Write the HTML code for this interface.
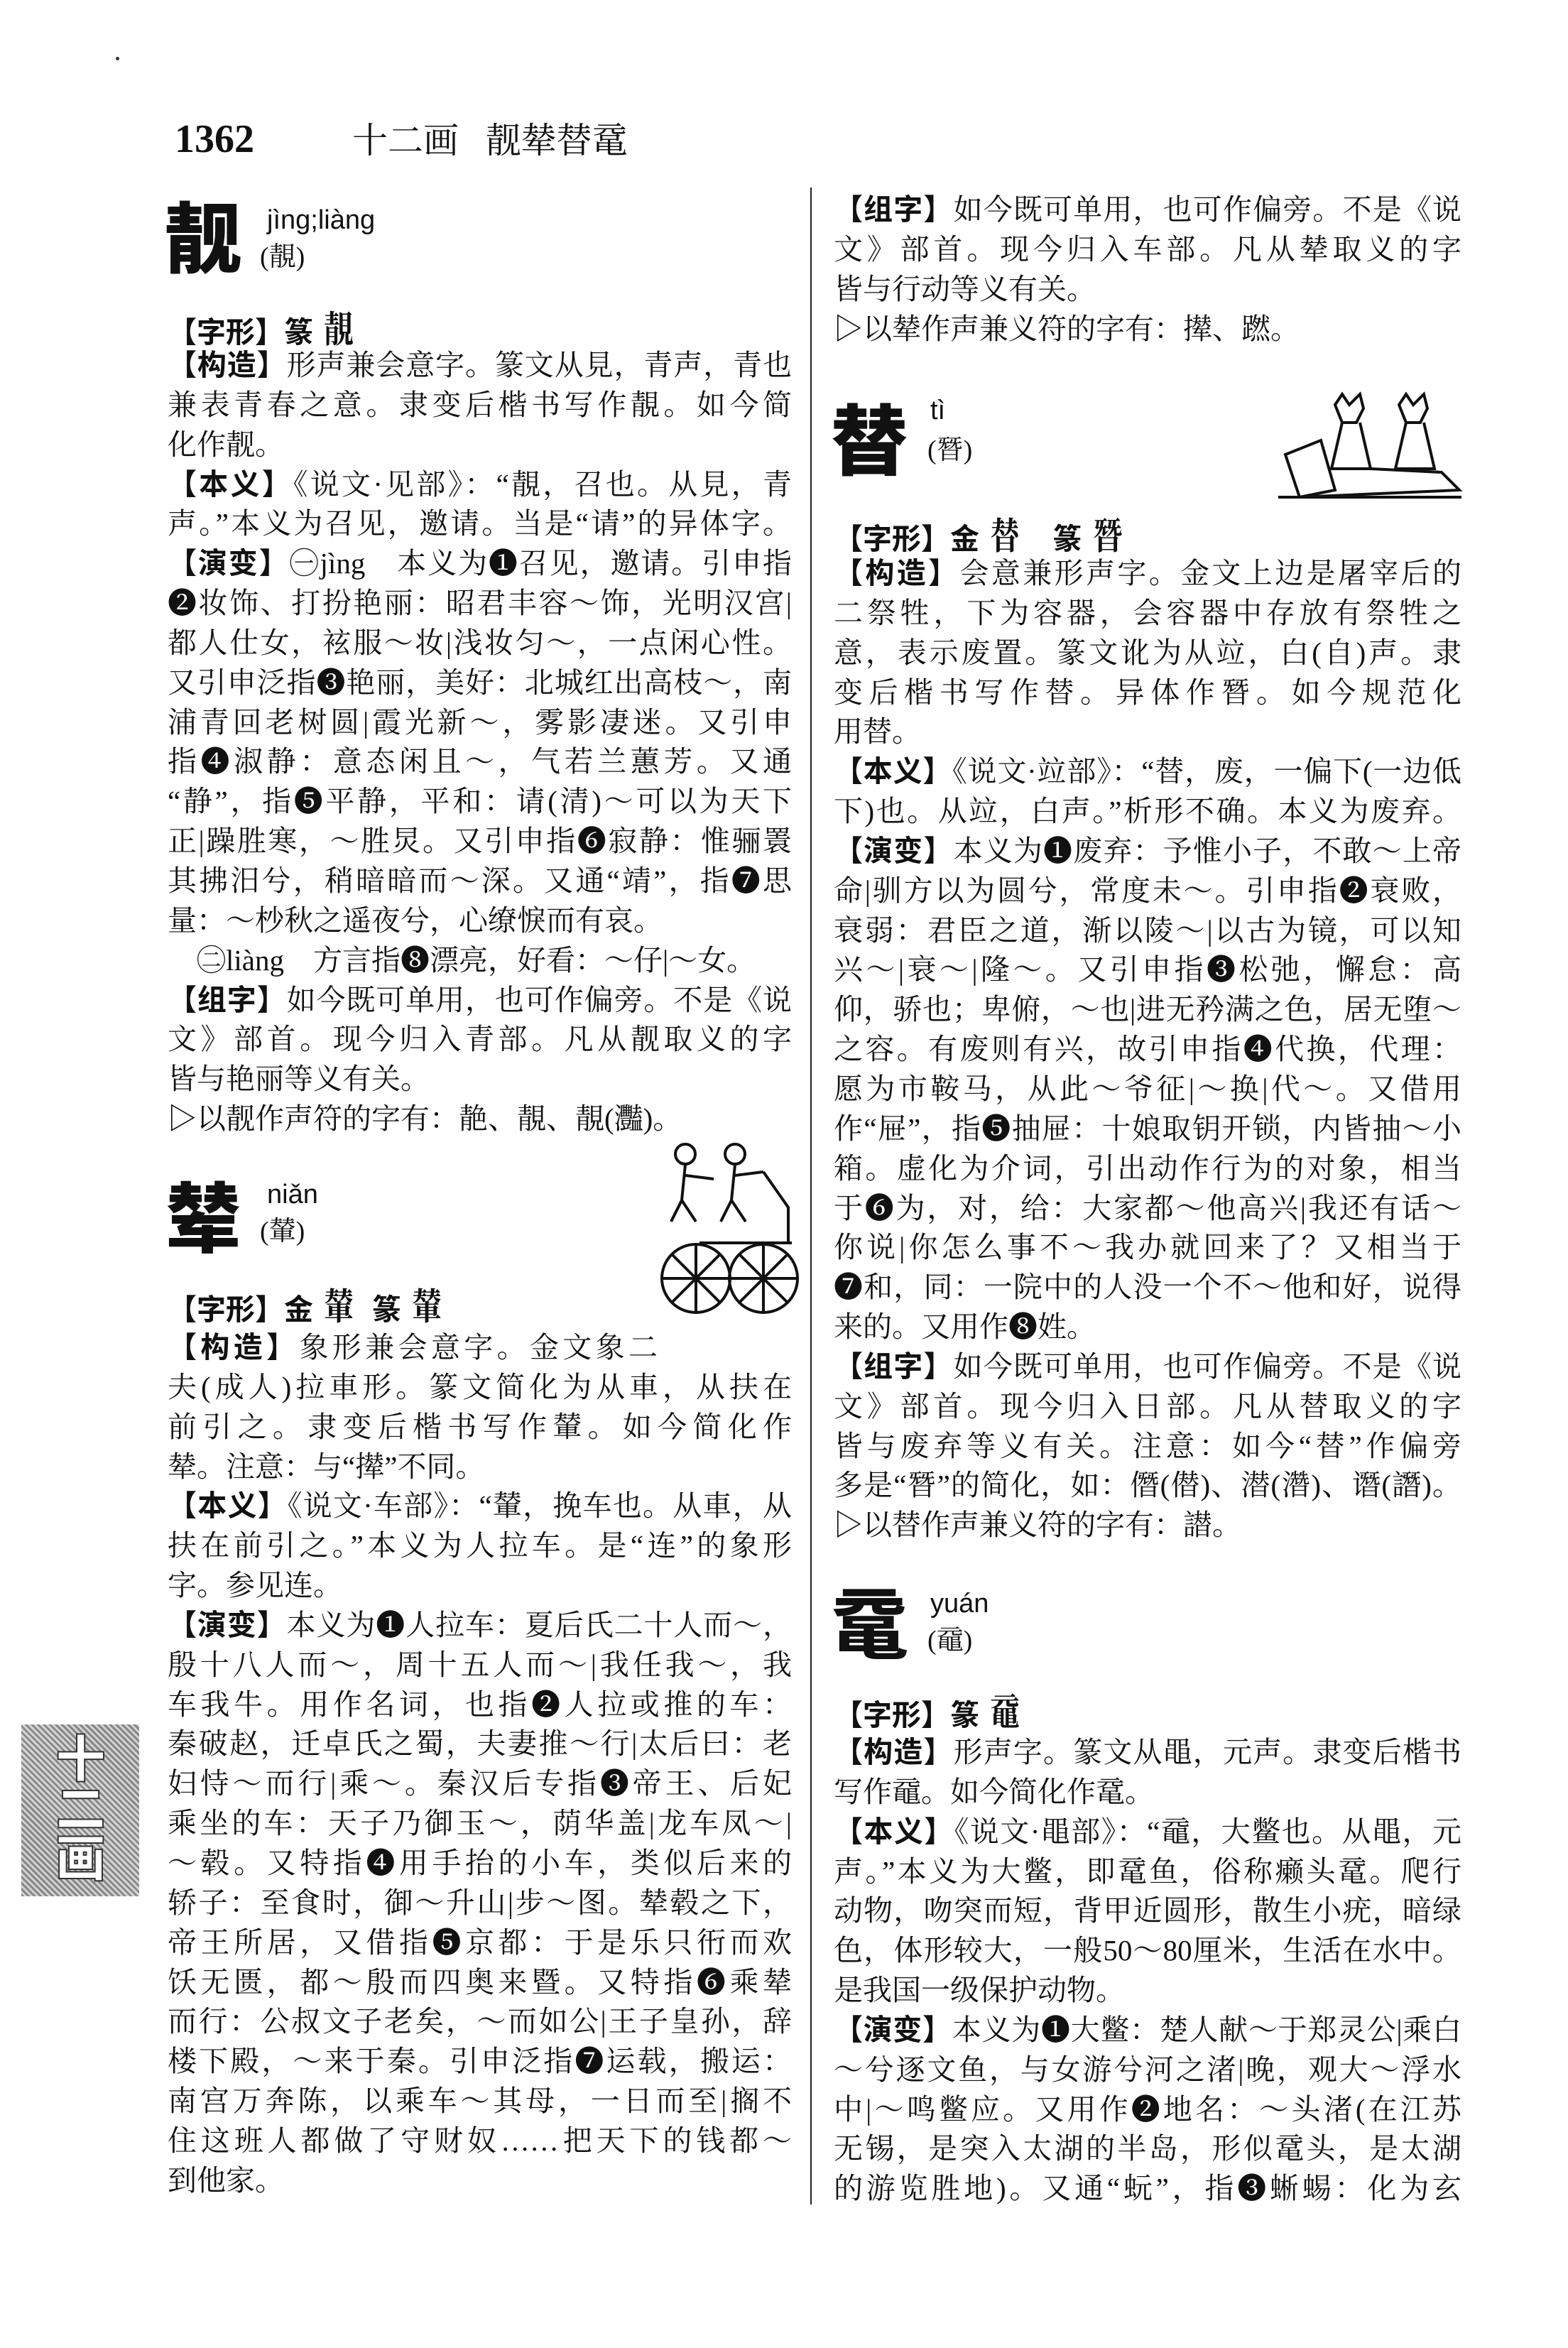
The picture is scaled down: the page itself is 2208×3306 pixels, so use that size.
<!DOCTYPE html>
<html lang="zh">
<head>
<meta charset="utf-8">
<style>
html,body{margin:0;padding:0;background:#fff;}
body{width:2208px;height:3306px;position:relative;overflow:hidden;color:#111;
font-family:"Liberation Serif","Noto Serif CJK SC",serif;}
.abs{position:absolute;}
.blk{position:absolute;font-size:41px;}
.blk div{height:55.85px;line-height:55.85px;white-space:nowrap;text-align:justify;text-align-last:justify;overflow:visible;}
.blk div.e{text-align-last:left;}
.L{left:236px;width:879px;}
.R{left:1174px;width:884px;}
b{font-family:"Liberation Sans","Noto Sans CJK SC",sans-serif;font-weight:700;}
.head{position:absolute;font-family:"Noto Sans CJK SC",sans-serif;font-weight:900;font-size:108px;line-height:110px;}
.py{position:absolute;font-family:"Liberation Sans","Noto Sans CJK SC",sans-serif;font-size:38px;line-height:44px;}
.tr{position:absolute;font-size:38px;line-height:44px;}
.seal{font-family:"Noto Serif CJK TC",serif;font-weight:700;font-size:52px;display:inline-block;transform:scaleX(0.8);}
</style>
</head>
<body>

<div class="abs" style="left:163px;top:80px;width:5px;height:5px;background:#333;border-radius:50%"></div>

<div class="abs" style="left:246px;top:164px;font-family:'Liberation Serif',serif;font-weight:700;font-size:56px;line-height:64px;">1362</div>
<div class="abs" style="left:496px;top:166px;font-size:50px;line-height:64px;font-family:'Liberation Serif','Noto Serif CJK SC',serif;">十二画&nbsp;&nbsp;&nbsp;靓辇替鼋</div>

<div class="abs" style="left:1141px;top:264px;width:2px;height:2840px;background:#222"></div>

<!-- 靓 -->
<div class="head" style="left:232px;top:274px;">靓</div>
<div class="py" style="left:376px;top:288px;">jìng;liàng</div>
<div class="tr" style="left:366px;top:340px;">(靚)</div>

<div class="blk L" style="top:432px;"><div class="e"><b>【字形】篆</b> <span class="seal">靚</span></div></div>

<div class="blk L" style="top:487px;">
<div><b>【构造】</b>形声兼会意字。篆文从見，青声，青也</div>
<div>兼表青春之意。隶变后楷书写作靚。如今简</div>
<div class="e">化作靓。</div>
<div><b>【本义】</b>《说文·见部》：“靚，召也。从見，青</div>
<div>声。”本义为召见，邀请。当是“请”的异体字。</div>
<div><b>【演变】</b>㊀jìng　本义为❶召见，邀请。引申指</div>
<div>❷妆饰、打扮艳丽：昭君丰容～饰，光明汉宫|</div>
<div>都人仕女，袨服～妆|浅妆匀～，一点闲心性。</div>
<div>又引申泛指❸艳丽，美好：北城红出高枝～，南</div>
<div>浦青回老树圆|霞光新～，雾影凄迷。又引申</div>
<div>指❹淑静：意态闲且～，气若兰蕙芳。又通</div>
<div>“静”，指❺平静，平和：请(清)～可以为天下</div>
<div>正|躁胜寒，～胜炅。又引申指❻寂静：惟骊瞏</div>
<div>其拂汨兮，稍暗暗而～深。又通“靖”，指❼思</div>
<div class="e">量：～杪秋之遥夜兮，心缭悷而有哀。</div>
<div class="e">　㊁liàng　方言指❽漂亮，好看：～仔|～女。</div>
<div><b>【组字】</b>如今既可单用，也可作偏旁。不是《说</div>
<div>文》部首。现今归入青部。凡从靓取义的字</div>
<div class="e">皆与艳丽等义有关。</div>
<div class="e">▷以靓作声符的字有：靘、靚、靚(灩)。</div>
</div>

<!-- 辇 -->
<div class="head" style="left:232px;top:1654px;">辇</div>
<div class="py" style="left:376px;top:1660px;">niǎn</div>
<div class="tr" style="left:366px;top:1712px;">(輦)</div>

<svg class="abs" style="left:925px;top:1600px" width="200" height="260" viewBox="0 0 200 260">
<g fill="none" stroke="#111" stroke-width="4">
<circle cx="40" cy="25" r="14"/><circle cx="110" cy="25" r="14"/>
<path d="M40 40 L35 90 L20 120 M35 90 L55 120 M40 55 L80 60"/>
<path d="M110 40 L105 90 L90 120 M105 90 L125 120 M110 55 L150 50"/>
<path d="M150 50 L185 100 L185 150 M60 150 L190 150"/>
<circle cx="55" cy="200" r="48"/><circle cx="150" cy="200" r="48"/>
<path d="M55 152 V248 M7 200 H103 M22 167 L88 233 M88 167 L22 233"/>
<path d="M150 152 V248 M102 200 H198 M117 167 L183 233 M183 167 L117 233"/>
</g></svg>

<div class="blk L" style="top:1808px;"><div class="e"><b>【字形】金</b> <span class="seal">輦</span>&nbsp;&nbsp;<b>篆</b> <span class="seal">輦</span></div></div>

<div class="blk L" style="top:1870px;">
<div style="width:690px"><b>【构造】</b>象形兼会意字。金文象二</div>
<div>夫(成人)拉車形。篆文简化为从車，从扶在</div>
<div>前引之。隶变后楷书写作輦。如今简化作</div>
<div class="e">辇。注意：与“撵”不同。</div>
<div><b>【本义】</b>《说文·车部》：“輦，挽车也。从車，从</div>
<div>扶在前引之。”本义为人拉车。是“连”的象形</div>
<div class="e">字。参见连。</div>
<div><b>【演变】</b>本义为❶人拉车：夏后氏二十人而～，</div>
<div>殷十八人而～，周十五人而～|我任我～，我</div>
<div>车我牛。用作名词，也指❷人拉或推的车：</div>
<div>秦破赵，迁卓氏之蜀，夫妻推～行|太后曰：老</div>
<div>妇恃～而行|乘～。秦汉后专指❸帝王、后妃</div>
<div>乘坐的车：天子乃御玉～，荫华盖|龙车凤～|</div>
<div>～毂。又特指❹用手抬的小车，类似后来的</div>
<div>轿子：至食时，御～升山|步～图。辇毂之下，</div>
<div>帝王所居，又借指❺京都：于是乐只衎而欢</div>
<div>饫无匮，都～殷而四奥来暨。又特指❻乘辇</div>
<div>而行：公叔文子老矣，～而如公|王子皇孙，辞</div>
<div>楼下殿，～来于秦。引申泛指❼运载，搬运：</div>
<div>南宫万奔陈，以乘车～其母，一日而至|搁不</div>
<div>住这班人都做了守财奴……把天下的钱都～</div>
<div class="e">到他家。</div>
</div>

<!-- right column -->
<div class="blk R" style="top:268px;">
<div><b>【组字】</b>如今既可单用，也可作偏旁。不是《说</div>
<div>文》部首。现今归入车部。凡从辇取义的字</div>
<div class="e">皆与行动等义有关。</div>
<div class="e">▷以辇作声兼义符的字有：撵、蹨。</div>
</div>

<!-- 替 -->
<div class="head" style="left:1170px;top:559px;">替</div>
<div class="py" style="left:1310px;top:556px;">tì</div>
<div class="tr" style="left:1306px;top:612px;">(朁)</div>

<svg class="abs" style="left:1800px;top:550px" width="260" height="160" viewBox="0 0 260 160">
<g fill="none" stroke="#111" stroke-width="4">
<path d="M80 20 L90 5 L100 20 L115 5 L120 25 L110 45 L90 45 Z"/>
<path d="M170 20 L180 5 L190 20 L205 5 L210 25 L200 45 L180 45 Z"/>
<path d="M90 45 L75 110 L130 110 L115 45 M180 45 L165 110 L220 110 L205 45"/>
<path d="M10 90 L60 70 L80 140 L30 150 Z M30 150 L255 140 L230 115 L130 110"/>
<path d="M0 150 H258"/>
</g></svg>

<div class="blk R" style="top:723px;"><div class="e"><b>【字形】金</b> <span class="seal">替</span>&nbsp;&nbsp;&nbsp;&nbsp;<b>篆</b> <span class="seal">朁</span></div></div>

<div class="blk R" style="top:780px;">
<div><b>【构造】</b>会意兼形声字。金文上边是屠宰后的</div>
<div>二祭牲，下为容器，会容器中存放有祭牲之</div>
<div>意，表示废置。篆文讹为从竝，白(自)声。隶</div>
<div>变后楷书写作替。异体作朁。如今规范化</div>
<div class="e">用替。</div>
<div><b>【本义】</b>《说文·竝部》：“替，废，一偏下(一边低</div>
<div>下)也。从竝，白声。”析形不确。本义为废弃。</div>
<div><b>【演变】</b>本义为❶废弃：予惟小子，不敢～上帝</div>
<div>命|驯方以为圆兮，常度未～。引申指❷衰败，</div>
<div>衰弱：君臣之道，渐以陵～|以古为镜，可以知</div>
<div>兴～|衰～|隆～。又引申指❸松弛，懈怠：高</div>
<div>仰，骄也；卑俯，～也|进无矜满之色，居无堕～</div>
<div>之容。有废则有兴，故引申指❹代换，代理：</div>
<div>愿为市鞍马，从此～爷征|～换|代～。又借用</div>
<div>作“屉”，指❺抽屉：十娘取钥开锁，内皆抽～小</div>
<div>箱。虚化为介词，引出动作行为的对象，相当</div>
<div>于❻为，对，给：大家都～他高兴|我还有话～</div>
<div>你说|你怎么事不～我办就回来了？又相当于</div>
<div>❼和，同：一院中的人没一个不～他和好，说得</div>
<div class="e">来的。又用作❽姓。</div>
<div><b>【组字】</b>如今既可单用，也可作偏旁。不是《说</div>
<div>文》部首。现今归入日部。凡从替取义的字</div>
<div>皆与废弃等义有关。注意：如今“替”作偏旁</div>
<div>多是“朁”的简化，如：僭(僣)、潜(濳)、谮(譖)。</div>
<div class="e">▷以替作声兼义符的字有：譛。</div>
</div>

<!-- 鼋 -->
<div class="head" style="left:1170px;top:2226px;">鼋</div>
<div class="py" style="left:1310px;top:2236px;">yuán</div>
<div class="tr" style="left:1306px;top:2288px;">(黿)</div>

<div class="blk R" style="top:2379px;"><div class="e"><b>【字形】篆</b> <span class="seal">黿</span></div></div>

<div class="blk R" style="top:2440px;">
<div><b>【构造】</b>形声字。篆文从黽，元声。隶变后楷书</div>
<div class="e">写作黿。如今简化作鼋。</div>
<div><b>【本义】</b>《说文·黽部》：“黿，大鳖也。从黽，元</div>
<div>声。”本义为大鳖，即鼋鱼，俗称癞头鼋。爬行</div>
<div>动物，吻突而短，背甲近圆形，散生小疣，暗绿</div>
<div>色，体形较大，一般50～80厘米，生活在水中。</div>
<div class="e">是我国一级保护动物。</div>
<div><b>【演变】</b>本义为❶大鳖：楚人献～于郑灵公|乘白</div>
<div>～兮逐文鱼，与女游兮河之渚|晚，观大～浮水</div>
<div>中|～鸣鳖应。又用作❷地名：～头渚(在江苏</div>
<div>无锡，是突入太湖的半岛，形似鼋头，是太湖</div>
<div>的游览胜地)。又通“蚖”，指❸蜥蜴：化为玄</div>
</div>

<!-- side tab -->
<div class="abs" style="left:30px;top:2428px;width:166px;height:242px;background:repeating-linear-gradient(45deg,#888 0 3px,#d4d4d4 3px 6px);"></div>
<div class="abs" style="left:70px;top:2440px;writing-mode:vertical-rl;font-family:'Noto Sans CJK SC',sans-serif;font-weight:900;font-size:70px;line-height:86px;color:#fff;-webkit-text-stroke:2px #333;">十二画</div>

</body>
</html>
